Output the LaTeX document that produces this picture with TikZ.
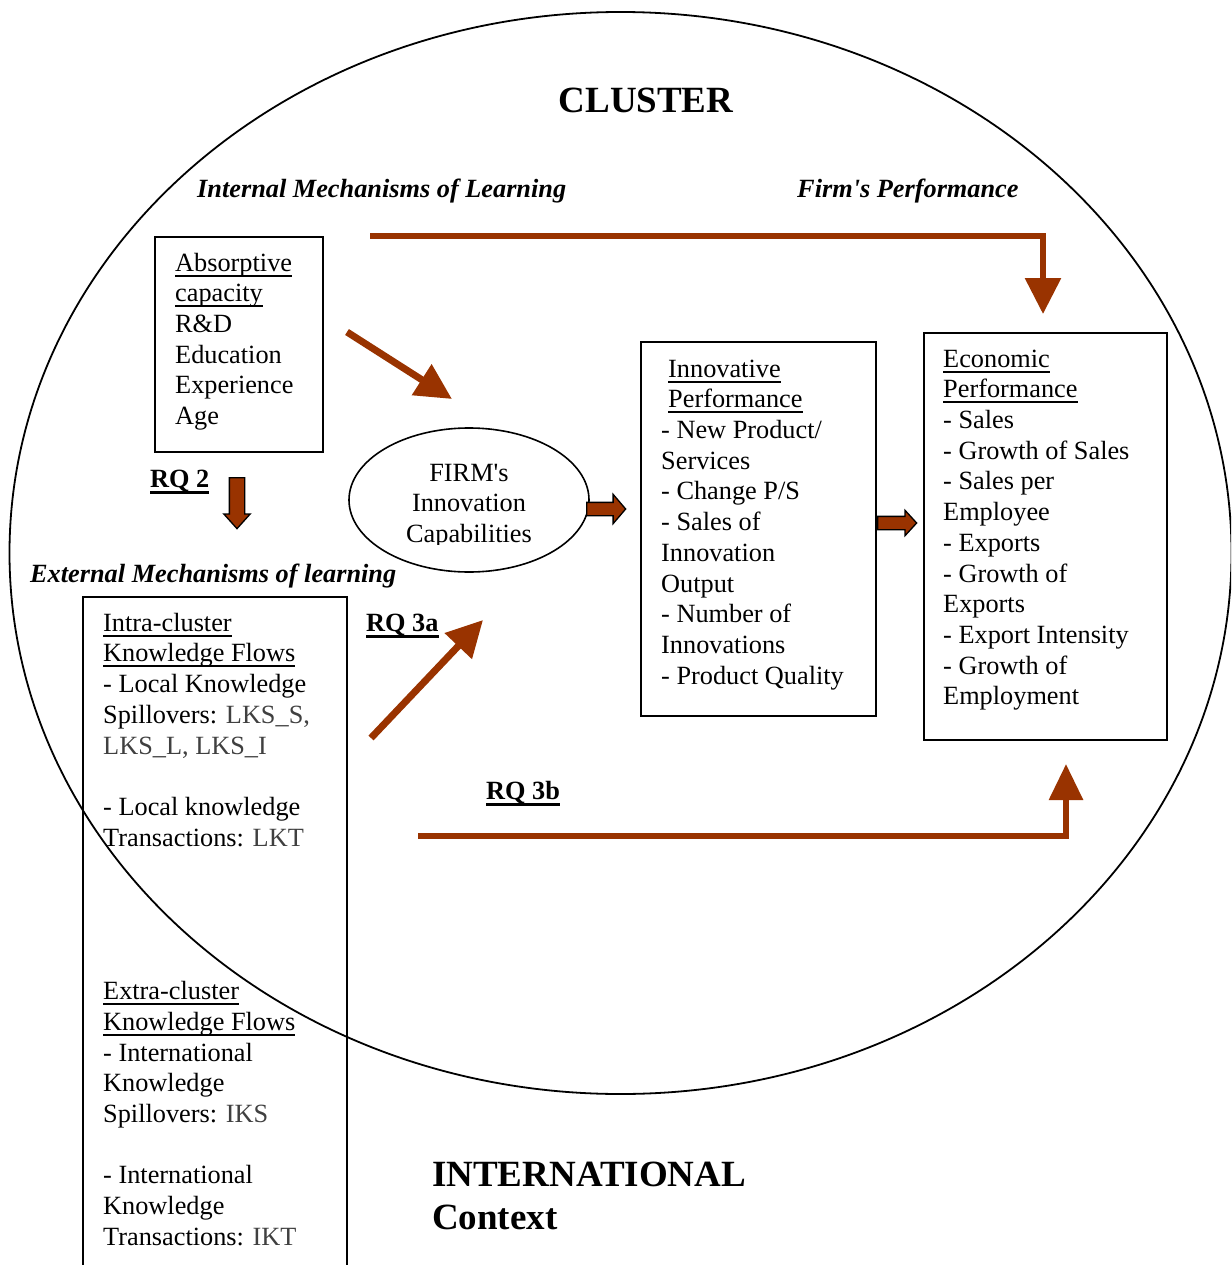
\documentclass[tikz,border=0pt]{standalone}
\usepackage{fontspec}
\setmainfont{Liberation Serif}
\usetikzlibrary{arrows.meta,shapes.arrows,shapes.geometric}
\definecolor{rust}{HTML}{993300}
\definecolor{graytxt}{HTML}{404040}
\newcommand\bodyfont{\fontsize{26.3pt}{30.7pt}\selectfont}
\newcommand\bigfont{\fontsize{37pt}{43pt}\selectfont\bfseries}
\newcommand\myul[1]{\leavevmode\setbox0\hbox{#1}\rlap{\rule[-5.5pt]{\wd0}{2pt}}\box0}
\newcommand\rqul[1]{\leavevmode\setbox0\hbox{#1}\rlap{\rule[-7pt]{\wd0}{3pt}}\box0}
\newcommand\gt[1]{\textcolor{graytxt}{#1}}
\newcommand\sq{\textquotesingle}
\tikzset{
  frame/.style={draw, line width=1.6pt, rectangle, anchor=north west, inner sep=0pt},
  boxtext/.style={anchor=north west, inner sep=0pt, align=left, font=\bodyfont},
  hdr/.style={anchor=base west, inner sep=0pt, font=\bodyfont\bfseries\itshape},
  rqlabel/.style={anchor=base west, inner sep=0pt, font=\bodyfont\bfseries},
  rustline/.style={draw=rust, line width=6pt, line join=miter, -{Triangle[length=36pt,width=35pt]}},
  blockarrow/.style={single arrow, draw=black, fill=rust, line width=1.3pt, inner sep=0pt,
    minimum width=0pt, anchor=tail, single arrow head indent=0pt}
}
\begin{document}
\begin{tikzpicture}[x=1pt,y=-1pt]
\useasboundingbox (0,0) rectangle (1231,1265);
\clip (0,0) rectangle (1231,1265);

% big cluster ellipse
\node[draw, ellipse, line width=1.8pt, minimum width=1222pt, minimum height=1082pt, inner sep=0pt] (cluster) at (620.5,553) {};

% titles
\node[anchor=base, inner sep=0pt, font=\bigfont] (ttl) at (646,113) {CLUSTER};
\node[anchor=base west, inner sep=0pt, font=\bigfont] (intl) at (432,1186) {INTERNATIONAL};
\node[anchor=base west, inner sep=0pt, font=\bigfont] (ctx) at (432,1229) {Context};

% headers
\node[hdr] (iml) at (197,198) {Internal Mechanisms of Learning};
\node[hdr] (fp) at (797,198) {Firm\sq s Performance};
\node[hdr] (eml) at (30,582) {External Mechanisms of learning};

% RQ labels
\node[rqlabel] (rq2) at (150,487) {\rqul{RQ 2}};
\node[rqlabel] (rq3a) at (366,631) {\rqul{RQ 3a}};
\node[rqlabel] (rq3b) at (486,799) {\rqul{RQ 3b}};

% boxes
\node[frame, minimum width=168pt, minimum height=215pt] (absbox) at (154,236) {};
\node[boxtext] (abstext) at (175,249.5) {\strut\myul{Absorptive}\\\myul{capacity}\\R\&D\\Education\\Experience\\Age};

\node[frame, minimum width=235pt, minimum height=374pt] (innbox) at (640,341) {};
\node[boxtext] (inntext) at (661,355.5) {\strut\hspace*{7pt}\myul{Innovative}\\\hspace*{7pt}\myul{Performance}\\- New Product/\\Services\\- Change P/S\\- Sales of\\Innovation\\Output\\- Number of\\Innovations\\- Product Quality};

\node[frame, minimum width=243pt, minimum height=407pt] (ecobox) at (923,332) {};
\node[boxtext] (ecotext) at (943,345.5) {\strut\myul{Economic}\\\myul{Performance}\\- Sales\\- Growth of Sales\\- Sales per\\Employee\\- Exports\\- Growth of\\Exports\\- Export Intensity\\- Growth of\\Employment};

\node[frame, minimum width=264pt, minimum height=700pt] (extbox) at (82,596) {};
\node[boxtext] (exttext) at (103,609.5) {\strut\myul{Intra-cluster}\\\myul{Knowledge Flows}\\- Local Knowledge\\Spillovers: \gt{LKS\_S,}\\\gt{LKS\_L, LKS\_I}\\\mbox{}\\- Local knowledge\\Transactions: \gt{LKT}\\\mbox{}\\\mbox{}\\\mbox{}\\\mbox{}\\\myul{Extra-cluster}\\\myul{Knowledge Flows}\\- International\\Knowledge\\Spillovers: \gt{IKS}\\\mbox{}\\- International\\Knowledge\\Transactions: \gt{IKT}};

% firm ellipse
\node[draw, ellipse, line width=1.6pt, minimum width=240pt, minimum height=144pt, inner sep=0pt] (firm) at (469,500) {};
\begin{scope}
\clip (355,440) rectangle (585,544);
\node[anchor=north, inner sep=0pt, align=center, font=\bodyfont] (firmtext) at (469,459.5) {\strut FIRM\sq s\\Innovation\\Capabilities};
\end{scope}

% line arrows
\coordinate (t0) at (370,236);
\coordinate (t1) at (1043,236);
\coordinate (t2) at (1043,314);
\draw[rustline] (t0) -- (t1) -- (t2);

\coordinate (b0) at (418,836);
\coordinate (b1) at (1066,836);
\coordinate (b2) at (1066,764);
\draw[rustline, -{Triangle[length=36pt,width=33pt]}] (b0) -- (b1) -- (b2);

\coordinate (d0) at (347,332);
\coordinate (d1) at (452,399);
\draw[draw=rust, line width=7pt, -{Triangle[length=36pt,width=35pt]}] (d0) -- (d1);

\coordinate (e0) at (371,738);
\coordinate (e1) at (483,620);
\draw[draw=rust, line width=7pt, -{Triangle[length=36pt,width=36pt]}] (e0) -- (e1);

% block arrows
\node[blockarrow, rotate=-90, text height=7pt, text depth=7pt, single arrow head extend=5.5pt,
  single arrow tip angle=84, minimum height=51pt] (rqarrow) at (237,477) {};
\node[blockarrow, text height=6pt, text depth=6pt, single arrow head extend=8pt,
  single arrow tip angle=99, minimum height=39pt] (firm2inn) at (586,509) {};
\node[blockarrow, text height=6pt, text depth=6pt, single arrow head extend=6pt,
  single arrow tip angle=95, minimum height=39pt] (inn2eco) at (877,523) {};
\end{tikzpicture}
\end{document}
